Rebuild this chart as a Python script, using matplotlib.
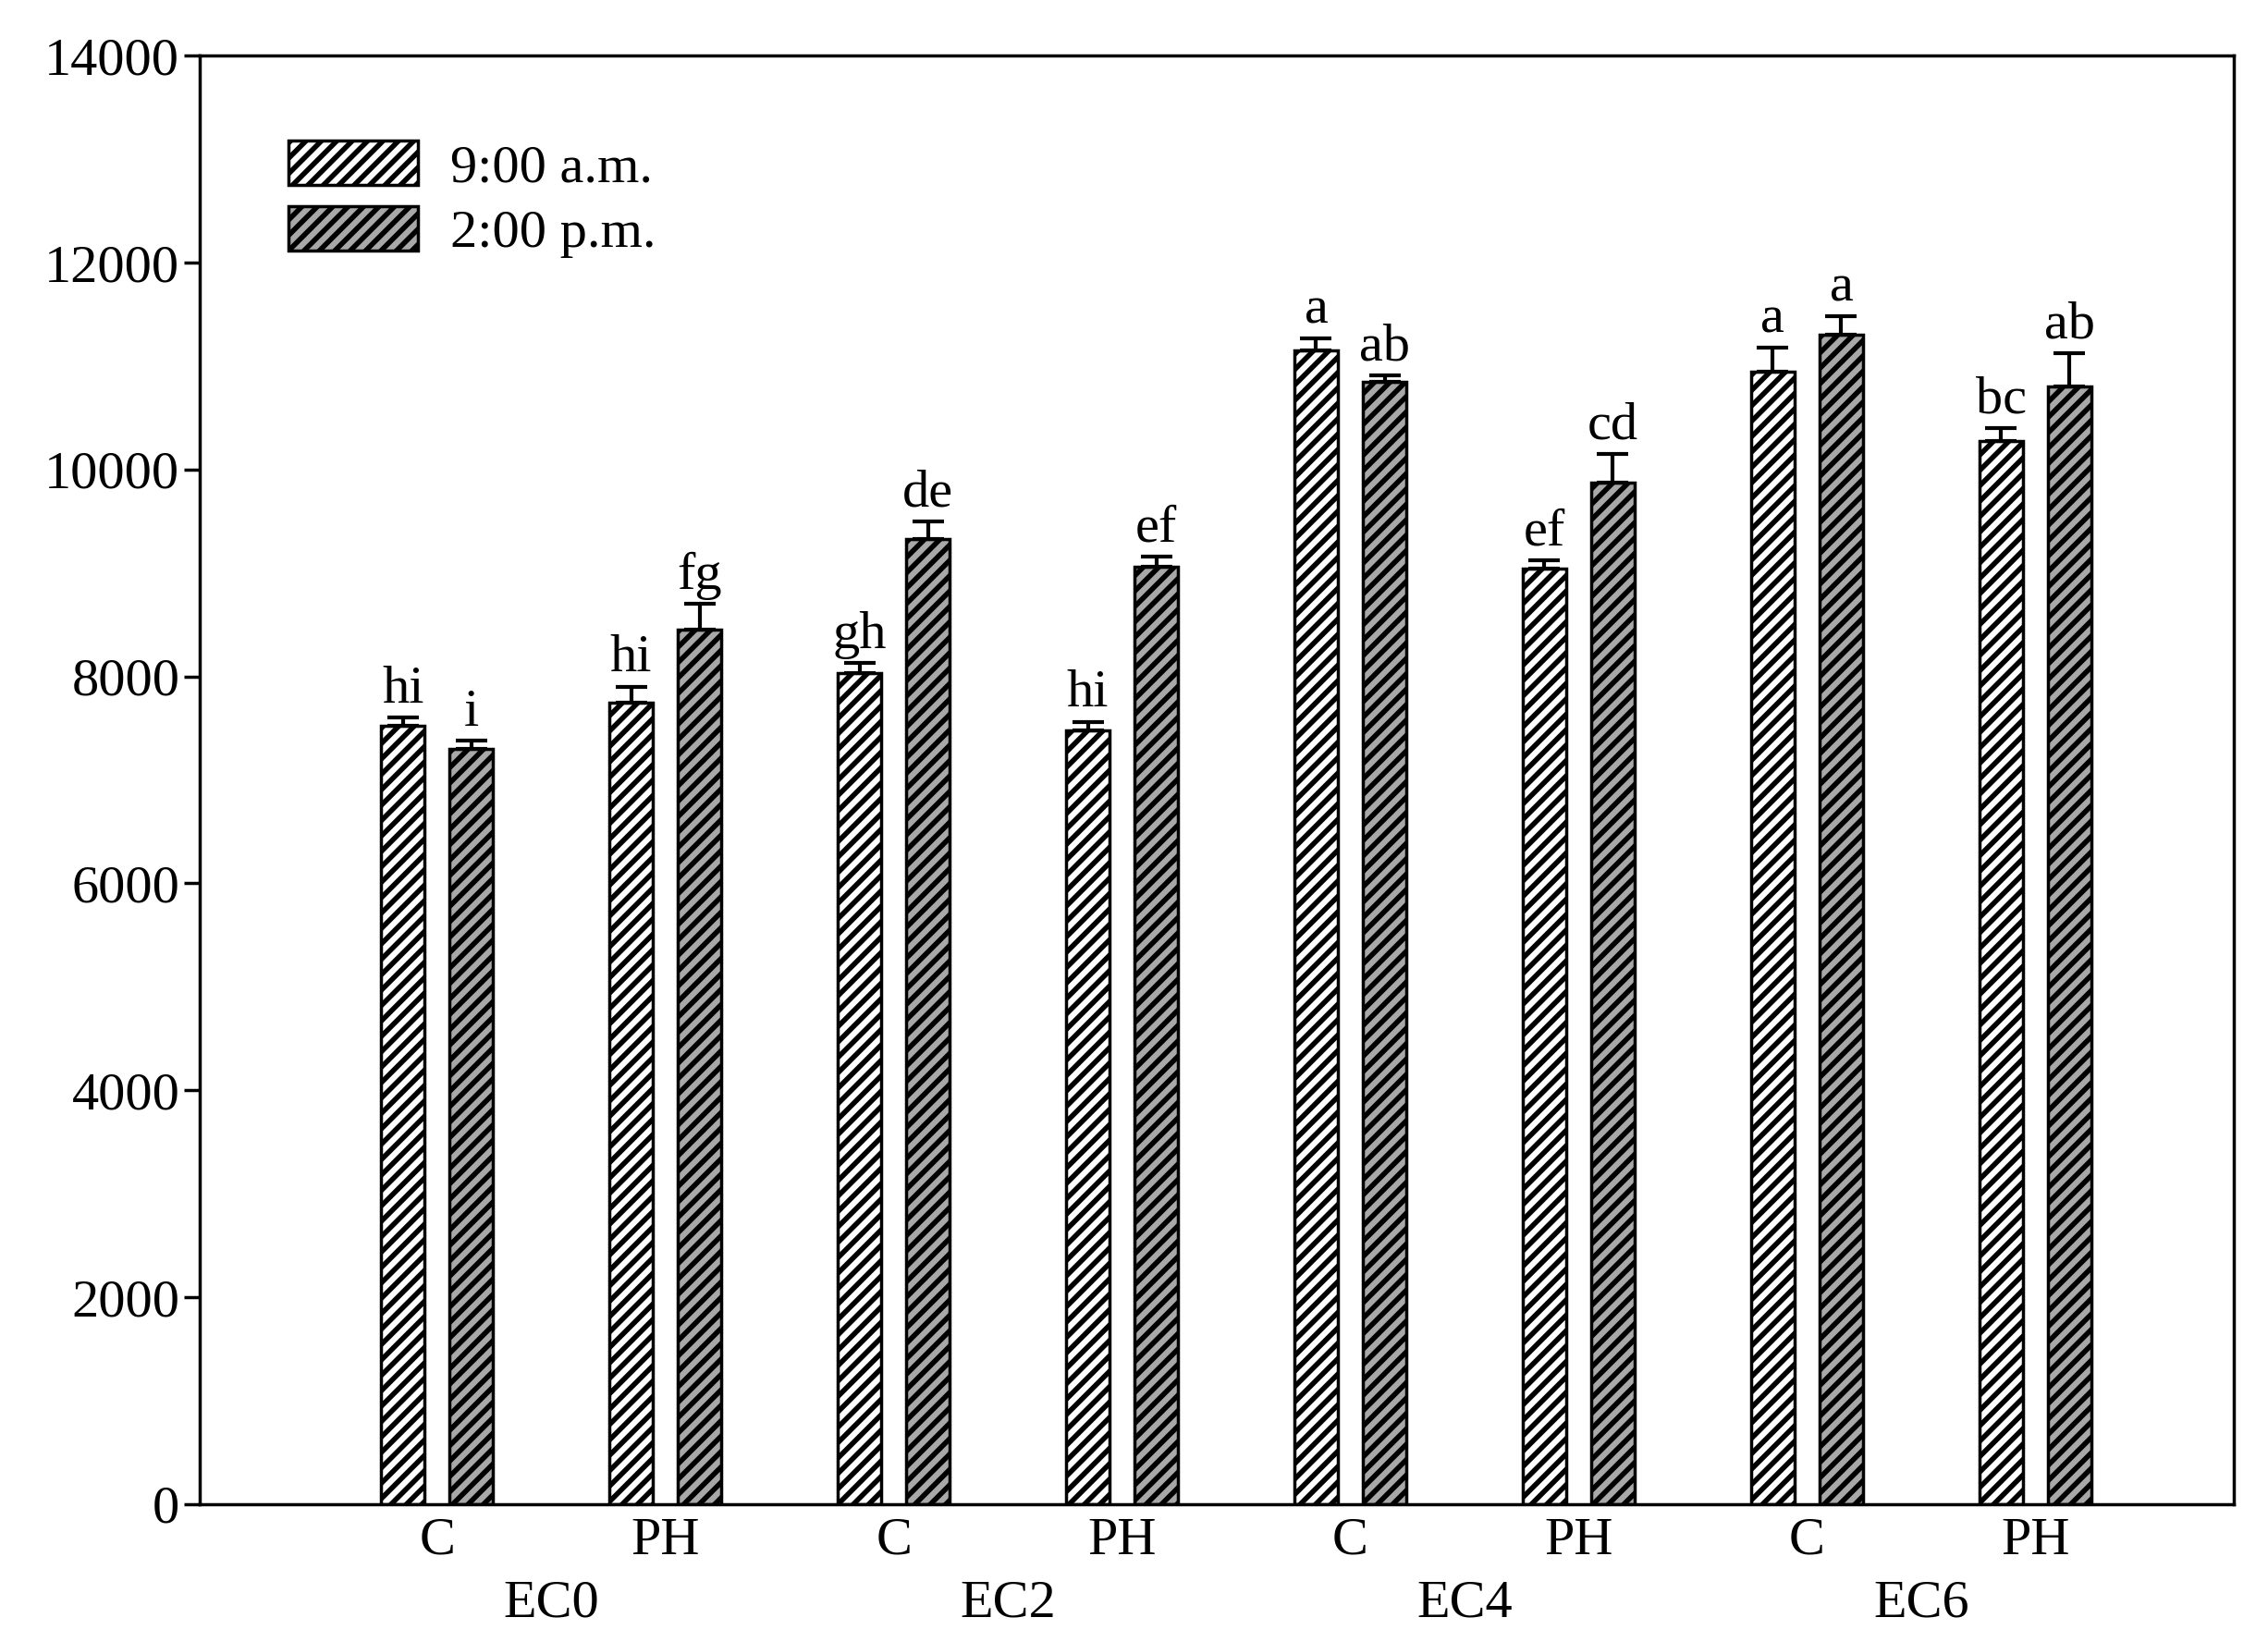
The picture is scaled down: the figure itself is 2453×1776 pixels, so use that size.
import matplotlib
matplotlib.use("Agg")
import matplotlib.pyplot as plt
import numpy as np

categories = ["C", "PH", "C", "PH", "C", "PH", "C", "PH"]
groups = ["EC0", "EC2", "EC4", "EC6"]
am_vals = [7520, 7750, 8030, 7480, 11150, 9040, 10950, 10280]
am_err = [80, 150, 100, 80, 120, 80, 230, 120]
pm_vals = [7300, 8450, 9330, 9060, 10850, 9870, 11300, 10800]
pm_err = [80, 250, 170, 100, 60, 280, 180, 330]
am_letters = ["hi", "hi", "gh", "hi", "a", "ef", "a", "bc"]
pm_letters = ["i", "fg", "de", "ef", "ab", "cd", "a", "ab"]

plt.rcParams['font.family'] = ['Liberation Serif', 'DejaVu Serif']
plt.rcParams['hatch.linewidth'] = 4
fig = plt.figure(figsize=(24.53, 17.76), dpi=100)
ax = fig.add_axes([0.088, 0.084, 0.897, 0.882])

x = np.arange(len(categories))
w = 0.19
off = 0.15
ekw = dict(elinewidth=3, capsize=12, capthick=3, ecolor='black')
ax.bar(x - off, am_vals, w, yerr=[[0]*8, am_err], color='white', edgecolor='black',
       hatch='//', linewidth=2.5, error_kw=ekw, label='9:00 a.m.')
ax.bar(x + off, pm_vals, w, yerr=[[0]*8, pm_err], color='#a8a8a8', edgecolor='black',
       hatch='//', linewidth=2.5, error_kw=ekw, label='2:00 p.m.')
fs = 42
for i in range(len(x)):
    ax.text(x[i] - off, am_vals[i] + am_err[i] + 40, am_letters[i], ha='center', va='bottom', fontsize=fs)
    ax.text(x[i] + off, pm_vals[i] + pm_err[i] + 40, pm_letters[i], ha='center', va='bottom', fontsize=fs)

ax.set_xlim(-1.04, 7.87)
ax.set_ylim(0, 14000)
ax.set_yticks(range(0, 14001, 2000))
ax.set_xticks(x)
ax.set_xticklabels(categories, fontsize=fs)
ax.tick_params(axis='y', labelsize=fs, width=2.5, length=12, direction='out')
ax.tick_params(axis='x', length=0, pad=10)
for s in ax.spines.values():
    s.set_linewidth(2.5)
for g, name in enumerate(groups):
    ax.text(2 * g + 0.5, -0.052, name, transform=ax.get_xaxis_transform(),
            ha='center', va='top', fontsize=fs)

ax.legend(loc='upper left', bbox_to_anchor=(0.02, 0.975), frameon=False, fontsize=fs,
          handlelength=2.4, handleheight=0.9, labelspacing=0.25, handletextpad=0.6)
fig.savefig('out.png', dpi=100)
